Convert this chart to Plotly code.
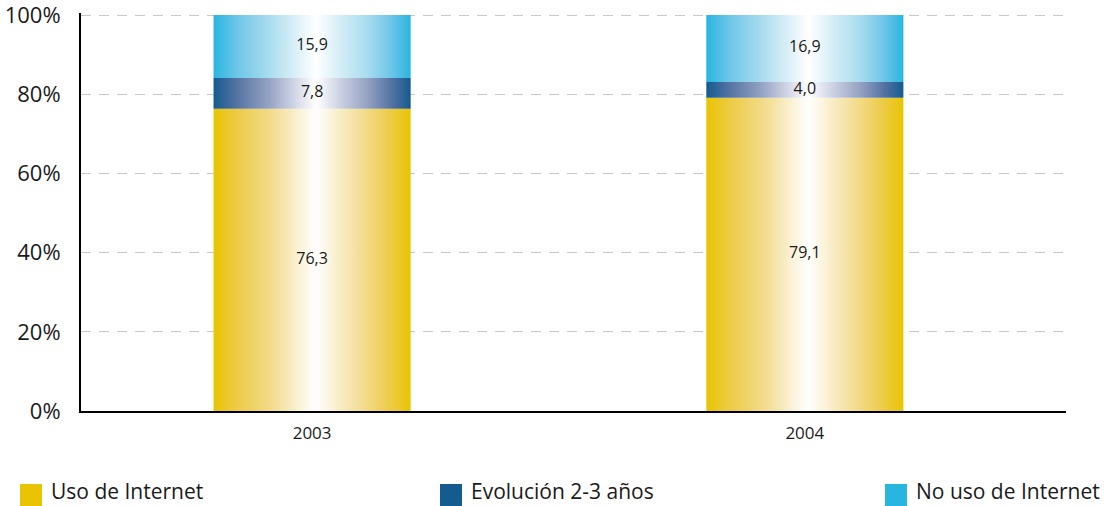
"""Uso de Internet 2003-2004 — barras apiladas al 100 % con degradado horizontal."""

import plotly.graph_objects as go

# datos
years = ["2003", "2004"]
uso_internet = [76.3, 79.1]
evolucion = [7.8, 4.0]
no_uso = [15.9, 16.9]

series_names = ["Uso de Internet", "Evolución 2-3 años", "No uso de Internet"]
y_ticks = [0, 20, 40, 60, 80, 100]

# estilo
_FONT = "Open Sans, DejaVu Sans, sans-serif"
_TEXT = "#1a1a1a"
_BAR_HALF = 0.2

_COLORS = ["#E9C400", "#145B8F", "#28B5E0"]
_GRADIENTS = [
    [[0, "#E9C400"], [0.12, "#EDCB45"], [0.3, "#F3DC8E"], [0.42, "#FAEFCF"],
     [0.52, "#FFFFFF"], [0.62, "#FAEFCF"], [0.76, "#F3DC8E"], [0.9, "#EDCB45"], [1, "#E9C400"]],
    [[0, "#145B8F"], [0.12, "#5574A3"], [0.28, "#95A2C3"], [0.42, "#D5D9E8"],
     [0.52, "#FFFFFF"], [0.62, "#D5D9E8"], [0.78, "#95A2C3"], [0.9, "#5574A3"], [1, "#145B8F"]],
    [[0, "#28B5E0"], [0.12, "#6EC6E8"], [0.28, "#A8DCEF"], [0.42, "#DCF0F8"],
     [0.52, "#FFFFFF"], [0.62, "#DCF0F8"], [0.78, "#A8DCEF"], [0.9, "#6EC6E8"], [1, "#28B5E0"]],
]


def _fmt(v: float) -> str:
    return f"{v:.1f}".replace(".", ",")


fig = go.Figure()

stacks = [uso_internet, evolucion, no_uso]
for i, year in enumerate(years):
    base = 0.0
    for s, values in enumerate(stacks):
        top = base + values[i]
        x0, x1 = i - _BAR_HALF, i + _BAR_HALF
        fig.add_trace(go.Scatter(
            x=[x0, x1, x1, x0, x0],
            y=[base, base, top, top, base],
            mode="none",
            fill="toself",
            fillcolor=_COLORS[s],
            fillgradient=dict(type="horizontal", colorscale=_GRADIENTS[s]),
            hoverinfo="skip",
            showlegend=False,
        ))
        fig.add_trace(go.Scatter(
            x=[i],
            y=[base + values[i] / 2],
            mode="text",
            text=[_fmt(values[i])],
            textfont=dict(family=_FONT, size=16, color=_TEXT),
            hoverinfo="skip",
            showlegend=False,
        ))
        base = top

# área de trazado en píxeles: 81..1066 x 13..411 (100 % cae en y=15)
_PLOT_L, _PLOT_W, _PLOT_B, _PLOT_H = 81, 985, 411, 398
_Y_TOP = 100 * _PLOT_H / 396

# leyenda manual (cuadros grandes como en el original)
legend_px = [20, 440, 885]
for name, color, px in zip(series_names, _COLORS, legend_px):
    fig.add_shape(
        type="rect", xref="paper", yref="paper",
        x0=(px - _PLOT_L) / _PLOT_W, x1=(px + 22 - _PLOT_L) / _PLOT_W,
        y0=(_PLOT_B - 484) / _PLOT_H, y1=(_PLOT_B - 507) / _PLOT_H,
        fillcolor=color, line=dict(width=0),
    )
    fig.add_annotation(
        text=name, xref="paper", yref="paper",
        x=(px + 29 - _PLOT_L) / _PLOT_W, y=(_PLOT_B - 491) / _PLOT_H,
        xanchor="left", yanchor="middle", showarrow=False,
        font=dict(family=_FONT, size=21, color=_TEXT),
    )

fig.update_layout(
    width=1106,
    height=506,
    margin=dict(l=81, r=40, t=13, b=95),
    paper_bgcolor="white",
    plot_bgcolor="white",
    showlegend=False,
    xaxis=dict(
        range=[-0.469, 1.53],
        tickvals=list(range(len(years))),
        ticktext=years,
        showgrid=False,
        zeroline=False,
        showline=True,
        linecolor="black",
        linewidth=2,
        automargin=False,
        ticklabelstandoff=6,
        tickfont=dict(family=_FONT, size=17, color=_TEXT),
    ),
    yaxis=dict(
        range=[0, _Y_TOP],
        tickvals=y_ticks,
        ticktext=[f"{v}%" for v in y_ticks],
        showgrid=True,
        gridcolor="#C8C8C8",
        gridwidth=1,
        griddash="10px,8px",
        zeroline=False,
        showline=True,
        linecolor="black",
        linewidth=2,
        automargin=False,
        ticklabeloverflow="allow",
        ticklabelstandoff=14,
        tickfont=dict(family=_FONT, size=22, color=_TEXT),
    ),
)

# quitar el margen por defecto del <body> para que el gráfico ocupe la ventana
fig.write_html(
    "out.html",
    config={"displayModeBar": False},
    post_script="document.body.style.margin='0';",
)
